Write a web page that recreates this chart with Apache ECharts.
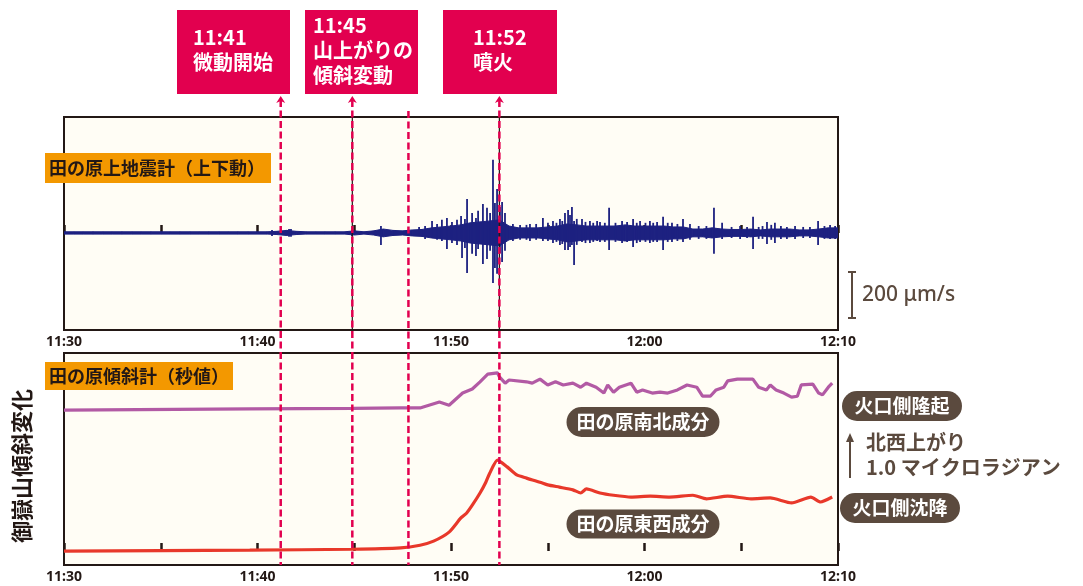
<!DOCTYPE html>
<html><head><meta charset="utf-8">
<script src="https://cdn.jsdelivr.net/npm/echarts@6/dist/echarts.min.js"></script>
<style>html,body{margin:0;padding:0;background:#fff}#c{width:1083px;height:586px}</style>
</head><body><div id="c"></div>
<script>
// ---- data (time in minutes after 11:30) ----
const tickTimes = [0, 10, 20, 30, 40];
const tickLabels = ['11:30', '11:40', '11:50', '12:00', '12:10'];
const eventTimes = [11.2, 14.9, 17.8, 22.5];
const eventTexts = ['11:41\n微動開始', '11:45\n山上がりの\n傾斜変動', null, '11:52\n噴火'];
// seismogram background envelope: [t, up(μm/s), down(μm/s)]
const seisBand = [
 [0,5,5],[0.5,5,5],[1,5,5],[1.5,5,5],[2,5,5],[2.5,5,5],[3,5,5],[3.5,5,5],[4,5,5],[4.5,5,5],
 [5,5,5],[5.5,5,5],[6,5,5],[6.5,5,5],[7,5,5],[7.5,5,5],[8,5,5],[8.5,5,5],[9,5,5],[9.5,5,5],
 [10,5,5],[10.5,5,5],[11,7,7],[11.5,11,11],[12,7,7],[12.5,5,5],[13,5,5],[13.5,5,5],[14,5,5],[14.5,5,5],
 [15,9,9],[15.5,5,5],[16,9,9],[16.5,17,17],[17,11,11],[17.5,9,9],[18,13,13],[18.5,15,15],[19,22,22],[19.5,26,26],
 [20,30,30],[20.5,35,35],[21,44,44],[21.5,48,48],[22,52,52],[22.5,57,57],[23,30,30],[23.5,22,22],[24,22,22],[24.5,22,22],
 [25,26,26],[25.5,30,30],[26,39,39],[26.5,35,35],[27,30,30],[27.5,30,30],[28,30,30],[28.5,30,30],[29,35,35],[29.5,30,30],
 [30,30,30],[30.5,30,30],[31,30,30],[31.5,26,26],[32,26,26],[32.5,17,17],[33,17,17],[33.5,22,22],[34,17,17],[34.5,15,15],
 [35,15,15],[35.5,17,17],[36,13,13],[36.5,17,17],[37,17,17],[37.5,17,17],[38,13,13],[38.5,13,13],[39,17,17],[39.5,22,22],[40,22,22]
];
// individual spikes: [t, up(μm/s), down(μm/s)]
const seisSpikes = [
 [10.75,13,13],[11.63,17,17],[11.73,17,17],[14.88,13,13],[16.38,30,52],[18.35,26,13],[18.66,30,26],
 [19.02,52,22],[19.28,39,30],[19.53,57,35],[19.79,65,70],[20.05,48,44],[20.31,57,52],[20.52,74,26],
 [20.57,26,109],[20.72,61,65],[20.83,148,174],[21.09,87,91],[21.29,65,100],[21.40,96,70],[21.65,126,135],
 [21.86,109,113],[22.02,87,78],[22.17,318,218],[22.27,130,152],[22.38,191,178],[22.53,113,87],[22.64,135,126],
 [22.79,87,78],[23.2,39,35],[23.57,35,30],[23.9,35,30],[24.08,39,35],[24.4,39,30],[24.75,65,35],[25.01,44,35],
 [25.27,52,44],[25.45,44,39],[25.63,61,52],[25.75,52,48],[25.89,87,74],[26.05,100,74],[26.15,78,61],[26.25,113,52],
 [26.36,52,139],[26.5,61,52],[26.77,61,39],[26.95,48,44],[27.18,52,44],[27.35,44,39],[27.55,52,35],
 [27.70,48,39],[27.95,44,39],[28.17,109,74],[28.5,44,39],[28.84,52,44],[29.1,48,39],[29.41,61,61],[29.6,44,44],
 [29.77,52,39],[30.05,44,39],[30.28,52,44],[30.45,44,39],[30.65,48,39],[30.96,70,74],[31.2,44,39],[31.42,44,39],
 [31.7,39,35],[31.99,61,39],[32.35,39,30],[32.8,30,26],[33.2,30,26],[33.59,109,91],[34.01,44,26],[34.5,26,22],[34.94,30,26],
 [35.3,26,22],[35.61,70,70],[35.9,26,26],[36.1,30,26],[36.33,48,48],[36.55,35,30],[36.74,44,44],[37.05,30,26],[37.36,26,26],
 [37.78,30,26],[38.2,26,22],[38.55,26,22],[38.97,52,52],[39.3,30,26],[39.59,35,26],[39.85,30,26]
];
// tilt (μrad, NS plotted with offset)
const nsTilt = [
 [0,3.13],[9.6,3.16],[14.9,3.17],[17.4,3.18],[18.4,3.18],[19.4,3.31],[19.9,3.24],[20.6,3.51],[21.1,3.60],
 [21.5,3.76],[21.9,3.93],[22.4,3.96],[22.5,3.87],[22.8,3.73],[23.0,3.80],[23.9,3.76],[24.2,3.73],[24.6,3.82],
 [25.0,3.69],[25.4,3.76],[25.8,3.69],[26.3,3.73],[26.7,3.64],[27.0,3.73],[27.5,3.64],[27.9,3.51],[28.1,3.69],
 [28.4,3.53],[28.7,3.64],[29.3,3.73],[29.6,3.53],[29.9,3.58],[30.4,3.51],[30.8,3.53],[31.2,3.51],[31.7,3.58],
 [32.2,3.69],[32.7,3.64],[33.0,3.44],[33.4,3.44],[33.7,3.58],[34.1,3.64],[34.3,3.78],[34.8,3.82],[35.6,3.82],
 [35.9,3.64],[36.3,3.58],[36.5,3.69],[36.8,3.58],[37.2,3.51],[37.6,3.42],[37.9,3.44],[38.1,3.69],[38.7,3.71],
 [39.0,3.51],[39.2,3.47],[39.5,3.64],[39.7,3.73]
];
const ewTilt = [
 [0,0],[9.6,0.02],[14.9,0.04],[17.4,0.07],[18.4,0.13],[19.1,0.22],[19.9,0.42],[20.5,0.73],[20.8,0.84],
 [21.1,1.02],[21.5,1.29],[21.8,1.53],[22.0,1.73],[22.4,2.02],[22.9,1.87],[23.4,1.69],[23.9,1.62],[24.6,1.53],
 [25.0,1.47],[25.6,1.42],[26.3,1.36],[26.7,1.29],[27.0,1.38],[27.7,1.29],[28.4,1.24],[29.3,1.20],[30.3,1.22],
 [31.3,1.20],[32.5,1.24],[33.2,1.16],[34.3,1.22],[35.5,1.16],[36.5,1.18],[37.6,1.07],[38.6,1.20],[39.1,1.09],[39.7,1.20]
];
const seisScale = 200;   // μm/s
const tiltScale = 1.0;   // μrad

// ---- styles ----
const SEIS = '#1d2180', DARK = '#231815', BROWN = '#5b4a3e', CRIMSON = '#e2004f', ORANGE = '#f39800';
const JP = '"Noto Sans CJK JP", "Noto Sans", sans-serif';

const chart = echarts.init(document.getElementById('c'));
function xAxisDef(gi) {
  return {
    type: 'value', gridIndex: gi, min: 0, max: 40, interval: 5,
    axisLine: { show: false },
    axisTick: { show: true, inside: true, length: 8, lineStyle: { color: DARK, width: 2.5 } },
    splitLine: { show: false },
    axisLabel: {
      margin: 5, color: DARK, fontWeight: 'bold', fontSize: 14, fontFamily: 'Noto Sans',
      showMinLabel: true, showMaxLabel: true,
      formatter: v => { const i = tickTimes.indexOf(v); return i >= 0 ? tickLabels[i] : ''; }
    }
  };
}
const gridBase = { left: 64, right: 245, show: true, backgroundColor: '#fffdf5', borderColor: DARK, borderWidth: 2 };

chart.setOption({
  animation: false,
  grid: [Object.assign({ top: 117, height: 213 }, gridBase), Object.assign({ top: 353, height: 212 }, gridBase)],
  xAxis: [xAxisDef(0), xAxisDef(1)],
  yAxis: [
    { type: 'value', gridIndex: 0, min: -422, max: 504, show: false },
    { type: 'value', gridIndex: 1, min: -0.31, max: 4.4, show: false }
  ],
  series: [
    {
      type: 'custom', xAxisIndex: 0, yAxisIndex: 0, data: seisBand, encode: { x: 0, y: 1 }, clip: true,
      renderItem: (params, api) => {
        const i = params.dataIndex;
        if (i >= seisBand.length - 1) return null;
        const a = seisBand[i], b = seisBand[i + 1];
        return { type: 'polygon', shape: { points: [api.coord([a[0], a[1]]), api.coord([b[0], b[1]]), api.coord([b[0], -b[2]]), api.coord([a[0], -a[2]])] },
          style: { fill: SEIS, stroke: SEIS, lineWidth: 1 } };
      }
    },
    {
      type: 'custom', xAxisIndex: 0, yAxisIndex: 0, data: seisSpikes, encode: { x: 0, y: 1 }, clip: true,
      renderItem: (params, api) => {
        const t = api.value(0), u = api.value(1), d = api.value(2);
        const p1 = api.coord([t, u]), p2 = api.coord([t, -d]);
        return { type: 'line', shape: { x1: p1[0], y1: p1[1], x2: p2[0], y2: p2[1] }, style: { stroke: SEIS, lineWidth: 1.8 } };
      }
    },
    { type: 'line', xAxisIndex: 1, yAxisIndex: 1, data: nsTilt, showSymbol: false, lineStyle: { color: '#b25aa4', width: 3.2 } },
    { type: 'line', xAxisIndex: 1, yAxisIndex: 1, data: ewTilt, showSymbol: false, smooth: 0.2, lineStyle: { color: '#e8382a', width: 3.2 } }
  ]
});

// ---- annotations ----
const g = [];
const px0 = v => chart.convertToPixel({ gridIndex: 0 }, v);
const px1 = v => chart.convertToPixel({ gridIndex: 1 }, v);
const top0 = px0([0, 504])[1], bot0 = px0([0, -422])[1], bot1 = px1([0, -0.31])[1];

// black reference lines in seismogram panel
[eventTimes[1], eventTimes[3]].forEach(t => {
  const x = px0([t, 0])[0];
  g.push({ type: 'line', z: 90, shape: { x1: x, y1: top0, x2: x, y2: bot0 + 4 }, style: { stroke: DARK, lineWidth: 1.2 } });
});
// event dashed lines + arrows
eventTimes.forEach((t, i) => {
  const x = px0([t, 0])[0];
  const y0 = eventTexts[i] ? 100 : 111;
  g.push({ type: 'line', z: 100, shape: { x1: x, y1: y0, x2: x, y2: bot1 }, style: { stroke: CRIMSON, lineWidth: 2.5, lineDash: [7, 3.5] } });
  if (eventTexts[i]) {
    g.push({ type: 'polygon', z: 100, shape: { points: [[x - 4.5, 103], [x, 96], [x + 4.5, 103], [x, 101]] }, style: { fill: CRIMSON } });
  }
});
// event boxes
const boxes = [
  { x: 177, w: 113, tx: 193, ty: 37 },
  { x: 305, w: 113, tx: 313, ty: 25 },
  null,
  { x: 443, w: 114, tx: 473, ty: 37 }
];
eventTexts.forEach((txt, i) => {
  if (!txt) return;
  const b = boxes[i];
  g.push({ type: 'rect', z: 100, shape: { x: b.x, y: 10, width: b.w, height: 84 }, style: { fill: CRIMSON } });
  g.push({ type: 'text', z: 101, x: b.tx, y: b.ty - 12.5, style: { text: txt, fill: '#fff', font: 'bold 20px ' + JP, lineHeight: 25, verticalAlign: 'top', align: 'left' } });
});
// orange panel labels
function orangeLabel(x, y, w, h, txt) {
  g.push({ type: 'rect', z: 100, shape: { x, y, width: w, height: h }, style: { fill: ORANGE } });
  g.push({ type: 'text', z: 101, x: x + 4, y: y + h / 2, style: { text: txt, fill: DARK, font: 'bold 18px ' + JP, verticalAlign: 'middle', align: 'left' } });
}
orangeLabel(45, 153, 226, 30, '田の原上地震計（上下動）');
orangeLabel(45, 362, 188, 28, '田の原傾斜計（秒値）');
// brown pills
function pill(cx, cy, w, h, txt) {
  g.push({ type: 'rect', z: 100, shape: { x: cx - w / 2, y: cy - h / 2, width: w, height: h, r: h / 2 }, style: { fill: BROWN } });
  g.push({ type: 'text', z: 101, x: cx, y: cy, style: { text: txt, fill: '#fff', font: 'bold 19px ' + JP, align: 'center', verticalAlign: 'middle' } });
}
pill(643, 422, 153, 30, '田の原南北成分');
pill(643, 524, 153, 29, '田の原東西成分');
pill(902, 406, 120, 30, '火口側隆起');
pill(900, 508, 120, 30, '火口側沈降');
// seismogram scale bar
{
  const yA = px0([0, 0])[1], yB = px0([0, seisScale])[1], h = yA - yB;
  const yc = 295, x = 852;
  g.push({ type: 'polyline', z: 100, shape: { points: [[x - 4, yc - h / 2], [x + 4, yc - h / 2]] }, style: { stroke: BROWN, lineWidth: 2 } });
  g.push({ type: 'line', z: 100, shape: { x1: x, y1: yc - h / 2, x2: x, y2: yc + h / 2 }, style: { stroke: BROWN, lineWidth: 2 } });
  g.push({ type: 'polyline', z: 100, shape: { points: [[x - 4, yc + h / 2], [x + 4, yc + h / 2]] }, style: { stroke: BROWN, lineWidth: 2 } });
  g.push({ type: 'text', z: 100, x: 862, y: yc, style: { text: seisScale + ' μm/s', fill: BROWN, font: '500 21px "Noto Sans"', verticalAlign: 'middle' } });
}
// tilt scale arrow
{
  const yA = px1([0, 0])[1], yB = px1([0, tiltScale])[1], h = yA - yB;
  const yBot = 478, x = 850;
  g.push({ type: 'line', z: 100, shape: { x1: x, y1: yBot, x2: x, y2: yBot - h + 2 }, style: { stroke: BROWN, lineWidth: 2 } });
  g.push({ type: 'polygon', z: 100, shape: { points: [[x - 4, yBot - h + 9], [x, yBot - h], [x + 4, yBot - h + 9]] }, style: { fill: BROWN } });
  g.push({ type: 'text', z: 100, x: 866, y: 442, style: { text: '北西上がり', fill: BROWN, font: 'bold 20px ' + JP, verticalAlign: 'middle' } });
  g.push({ type: 'text', z: 100, x: 866, y: 467, style: { text: tiltScale.toFixed(1) + ' マイクロラジアン', fill: BROWN, font: 'bold 20px ' + JP, verticalAlign: 'middle' } });
}
// y title
g.push({ type: 'text', z: 100, x: 22, y: 466, rotation: Math.PI / 2, style: { text: '御嶽山傾斜変化', fill: DARK, font: 'bold 22px ' + JP, align: 'center', verticalAlign: 'middle' } });

chart.setOption({ graphic: g });
</script>
</body></html>
